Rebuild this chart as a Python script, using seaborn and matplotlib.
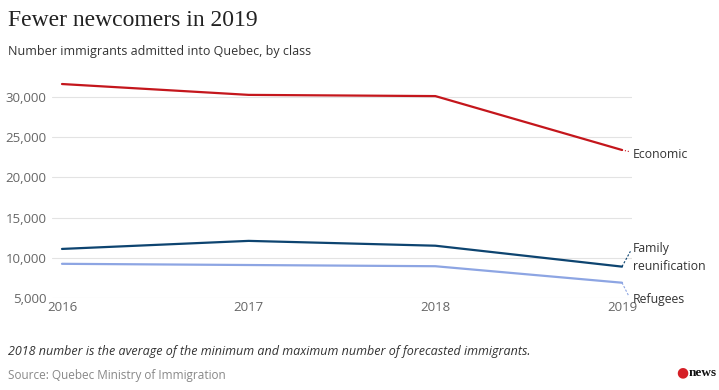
import pandas as pd
import matplotlib.pyplot as plt
import seaborn as sns

# data
years = [2016, 2017, 2018, 2019]
economic = [31600, 30250, 30100, 23400]
family = [11100, 12100, 11500, 8900]
refugees = [9250, 9100, 8950, 6900]
classes = ["Economic", "Family reunification", "Refugees"]
colors = ["#c4161c", "#0d4470", "#8da5e3"]

df = pd.DataFrame({
    "year": years * 3,
    "value": economic + family + refugees,
    "cls": [c for c in classes for _ in years],
})

sns.set_style("white")
plt.rcParams['font.family'] = ['Open Sans', 'DejaVu Sans']

fig = plt.figure(figsize=(7.19, 3.9), dpi=100)
ax = fig.add_axes([52 / 719, 1 - 298 / 390, 580 / 719, 218 / 390])

sns.lineplot(data=df, x="year", y="value", hue="cls", palette=colors,
             linewidth=1.6, legend=False, ax=ax)

ax.set_xlim(2016 - 10 / 186.7, 2019 + 10 / 186.7)
ax.set_ylim(5000, 32100)
ax.set_yticks([5000, 10000, 15000, 20000, 25000, 30000])
ax.set_yticklabels([f"{v:,}" for v in ax.get_yticks().astype(int)])
ax.set_xticks(years)
ax.set_xticklabels([str(y) for y in years])
ax.tick_params(axis="both", length=0, labelsize=9.5, labelcolor="#666666")
ax.tick_params(axis="x", pad=2)
ax.tick_params(axis="y", pad=4)
ax.grid(axis="y", color="#e3e3e3", linewidth=0.8)
ax.grid(axis="x", visible=False)
for s in ax.spines.values():
    s.set_visible(False)
ax.set_xlabel("")
ax.set_ylabel("")

# end labels with small connectors
ax.plot([2019, 2019.04], [economic[-1], economic[-1] - 200], ls=":", color=colors[0], lw=0.8, clip_on=False)
ax.text(2019.06, economic[-1] - 500, "Economic", fontsize=8.8, color="#333333", va="center")
ax.plot([2019, 2019.045], [family[-1], 10800], ls=(0, (2, 1.5)), color=colors[1], lw=0.8, clip_on=False)
ax.text(2019.06, 10000, "Family\nreunification", fontsize=8.8, color="#333333", va="center", linespacing=1.5)
ax.plot([2019, 2019.035], [refugees[-1], 5300], ls=(0, (2, 1.5)), color=colors[2], lw=0.8, clip_on=False)
ax.text(2019.06, 4800, "Refugees", fontsize=8.8, color="#333333", va="center")

fig.text(8 / 719, 1 - 20 / 390, "Fewer newcomers in 2019", fontsize=17,
         family=["Liberation Serif", "DejaVu Serif"], color="#222222", va="center")
fig.text(8 / 719, 1 - 52 / 390, "Number immigrants admitted into Quebec, by class",
         fontsize=9, color="#333333", va="center")
fig.text(8 / 719, 1 - 352 / 390,
         "2018 number is the average of the minimum and maximum number of forecasted immigrants.",
         fontsize=9, style="italic", color="#333333", va="center")
fig.text(8 / 719, 1 - 376 / 390, "Source: Quebec Ministry of Immigration",
         fontsize=8.5, color="#888888", va="center")

# CBC news mark
fig.text(688 / 719, 1 - 373 / 390, "\u25cf", fontsize=10, color="#d51f26", ha="right", va="center")
fig.text(689 / 719, 1 - 373 / 390, "news", fontsize=9.5, weight="bold",
         family=["Liberation Serif", "DejaVu Serif"], color="#111111", va="center")

plt.savefig("out.png", dpi=100)
